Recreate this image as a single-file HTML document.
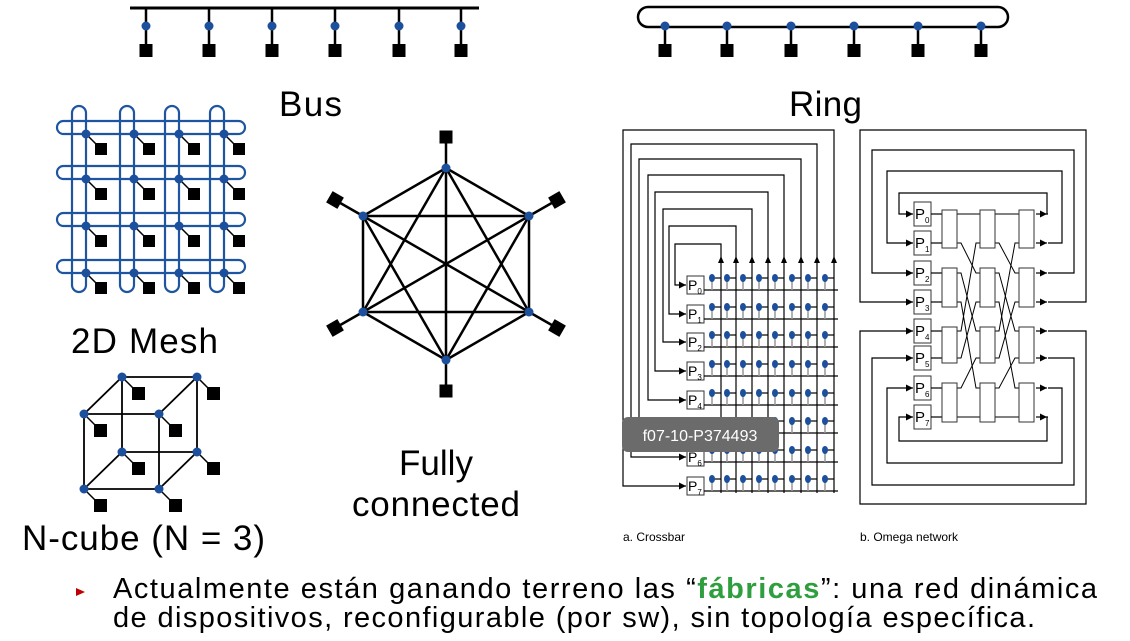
<!DOCTYPE html>
<html><head><meta charset="utf-8"><style>
html,body{margin:0;padding:0;background:#fff;}
svg{display:block;font-family:"Liberation Sans",sans-serif;}
</style></head><body>
<svg id="s" width="1130" height="641" viewBox="0 0 1130 641" xmlns="http://www.w3.org/2000/svg">
<defs>
<marker id="ar" viewBox="0 0 10 10" refX="10" refY="5" markerWidth="6" markerHeight="6" orient="auto"><path d="M0,0L10,5L0,10z" fill="#000"/></marker>
</defs>
<rect width="1130" height="641" fill="#fff"/>
<g id="g"></g>
<g fill="#000">
<text x="279" y="116" font-size="35" textLength="63">Bus</text>
<text x="789" y="116" font-size="35" textLength="73">Ring</text>
<text x="71" y="353" font-size="35" textLength="147">2D Mesh</text>
<text x="22" y="550" font-size="35" textLength="243">N-cube (N = 3)</text>
<text x="436" y="475" font-size="35" text-anchor="middle">Fully</text>
<text x="436" y="516" font-size="35" text-anchor="middle" textLength="168">connected</text>
<text x="623" y="541" font-size="12">a. Crossbar</text>
<text x="860" y="541" font-size="12">b. Omega network</text>
<g font-size="14">
<text x="688" y="290">P<tspan font-size="8" dy="4">0</tspan></text>
<text x="688" y="319">P<tspan font-size="8" dy="4">1</tspan></text>
<text x="688" y="347">P<tspan font-size="8" dy="4">2</tspan></text>
<text x="688" y="376">P<tspan font-size="8" dy="4">3</tspan></text>
<text x="688" y="405">P<tspan font-size="8" dy="4">4</tspan></text>
<text x="688" y="433">P<tspan font-size="8" dy="4">5</tspan></text>
<text x="688" y="462">P<tspan font-size="8" dy="4">6</tspan></text>
<text x="688" y="491">P<tspan font-size="8" dy="4">7</tspan></text>
</g>
<g font-size="15">
<text x="915" y="219">P<tspan font-size="8" dy="4">0</tspan></text>
<text x="915" y="248">P<tspan font-size="8" dy="4">1</tspan></text>
<text x="915" y="278">P<tspan font-size="8" dy="4">2</tspan></text>
<text x="915" y="307">P<tspan font-size="8" dy="4">3</tspan></text>
<text x="915" y="336">P<tspan font-size="8" dy="4">4</tspan></text>
<text x="915" y="363">P<tspan font-size="8" dy="4">5</tspan></text>
<text x="915" y="393">P<tspan font-size="8" dy="4">6</tspan></text>
<text x="915" y="422">P<tspan font-size="8" dy="4">7</tspan></text>
</g>
</g>
<rect x="622" y="417" width="157" height="35" rx="6" fill="#6b6b6b"/>
<text x="700" y="441" font-size="16" fill="#fff" text-anchor="middle">f07-10-P374493</text>
<path d="M76,588L85,592L76,596z" fill="#c00000"/>
<text x="113" y="598" font-size="29" textLength="984" fill="#000">Actualmente están ganando terreno las “<tspan fill="#2e9e3e" font-weight="bold">fábricas</tspan>”: una red dinámica</text>
<text x="113" y="627" font-size="29" textLength="922" fill="#000">de dispositivos, reconfigurable (por sw), sin topología específica.</text>
</svg>
<script>
var g=document.getElementById('g'),NS='http://www.w3.org/2000/svg';
function el(t,a){var e=document.createElementNS(NS,t);for(var k in a)e.setAttribute(k,a[k]);g.appendChild(e);return e;}
function ln(x1,y1,x2,y2,w,c){return el('line',{x1:x1,y1:y1,x2:x2,y2:y2,stroke:c||'#000','stroke-width':w||2});}
function dot(x,y,r){el('circle',{cx:x,cy:y,r:r||4.5,fill:'#1c4f9c'});}
function sq(x,y,s){el('rect',{x:x,y:y,width:s||13,height:s||13,fill:'#000'});}
var B='#1f55a0';
ln(130,8,479,8,3);
[146,209,272,335,399,461].forEach(function(x){ln(x,8,x,50,2.5);dot(x,26);sq(x-6.5,44);});
el('rect',{x:638,y:7,width:370,height:20,rx:10,fill:'none',stroke:'#000','stroke-width':2.5});
[665,727,791,854,918,981].forEach(function(x){ln(x,26,x,50,2.5);dot(x,26);sq(x-6.5,44);});
var mx=[86,134,179,224],my=[134,179,226,273];
my.forEach(function(y){ln(86,y,224,y,2);});
mx.forEach(function(x){ln(x,134,x,273,2);});
my.forEach(function(y){el('rect',{x:57,y:y-13,width:188,height:13,rx:6.5,fill:'none',stroke:B,'stroke-width':2.2});});
mx.forEach(function(x){el('rect',{x:x-14,y:106,width:14,height:186,rx:7,fill:'none',stroke:B,'stroke-width':2.2});});
my.forEach(function(y){mx.forEach(function(x){ln(x,y,x+11,y+11,1.5);dot(x,y);sq(x+9,y+9,12);});});
var c={a:[122,377],b:[197,377],c:[84,414],d:[159,414],e:[122,452],f:[197,452],h:[84,489],i:[159,489]};
[['a','b'],['c','d'],['e','f'],['h','i'],['a','c'],['b','d'],['e','h'],['f','i'],['a','e'],['b','f'],['c','h'],['d','i']].forEach(function(p){ln(c[p[0]][0],c[p[0]][1],c[p[1]][0],c[p[1]][1],1.8);});
for(var k in c){var p=c[k];ln(p[0],p[1],p[0]+12,p[1]+12,1.5);dot(p[0],p[1]);sq(p[0]+10,p[1]+10,13);}
var h=[[446,168],[529,216],[529,312],[446,360],[363,312],[363,216]];
for(var i=0;i<6;i++)for(var j=i+1;j<6;j++)ln(h[i][0],h[i][1],h[j][0],h[j][1],2.5);
var sqp=[[446,137,0],[557,200,-30],[557,328,30],[446,391,0],[335,328,-30],[335,200,30]];
for(i=0;i<6;i++){ln(h[i][0],h[i][1],sqp[i][0],sqp[i][1],2.5);
el('rect',{x:sqp[i][0]-6.5,y:sqp[i][1]-6.5,width:13,height:13,fill:'#000',transform:'rotate('+sqp[i][2]+' '+sqp[i][0]+' '+sqp[i][1]+')'});}
for(i=0;i<6;i++)dot(h[i][0],h[i][1]);
var cx=[721,736,752,768,784,801,817,834],cy=[285,314,342,371,400,428,457,486];
var L=[675,669,663,655,648,639,631,623],T=[244,226,209,192,175,159,144,130];
for(i=0;i<8;i++){
 el('path',{d:'M'+cx[i]+',493L'+cx[i]+','+T[i]+'L'+L[i]+','+T[i]+'L'+L[i]+','+cy[i]+'L686,'+cy[i],fill:'none',stroke:'#000','stroke-width':1.2,'marker-end':'url(#ar)'});
 el('path',{d:'M'+(cx[i]-3)+',263L'+cx[i]+',256L'+(cx[i]+3)+',263z',fill:'#000'});
}
for(i=0;i<8;i++){
 el('rect',{x:687,y:cy[i]-9,width:17,height:18,fill:'#fff',stroke:'#333','stroke-width':1});
 ln(704,cy[i]+5,838,cy[i]+5,1.2);
 for(j=0;j<8;j++){var dx=cx[j]-9;ln(dx,cy[i]-7,cx[j],cy[i]-7,1.2);ln(dx,cy[i]-7,dx,cy[i]+5,1.5,'#999');
  el('ellipse',{cx:dx,cy:cy[i]-7,rx:3,ry:4,fill:'#1c4f9c'});}
}
var oy=[214,243,273,302,331,358,388,417];
var oL=[899,887,872,860,860,872,887,899],oT=[193,171,150,130,504,485,463,441],oR=[1047,1062,1074,1086,1086,1074,1062,1047];
for(i=0;i<8;i++){
 el('path',{d:'M1036,'+oy[i]+'L1047,'+oy[i],fill:'none',stroke:'#000','stroke-width':1.2,'marker-end':'url(#ar)'});
 el('path',{d:'M1048,'+oy[i]+'L'+oR[i]+','+oy[i]+'L'+oR[i]+','+oT[i]+'L'+oL[i]+','+oT[i]+'L'+oL[i]+','+oy[i]+'L913,'+oy[i],fill:'none',stroke:'#000','stroke-width':1.2,'marker-end':'url(#ar)'});
 el('rect',{x:914,y:oy[i]-12,width:17,height:24,fill:'#fff',stroke:'#333','stroke-width':1});
 ln(931,oy[i],942,oy[i],1.2);
}
var sh=[0,2,4,6,1,3,5,7];
[[957,980],[995,1019]].forEach(function(s){for(i=0;i<8;i++){var y2=oy[sh[i]];
 el('path',{d:'M'+s[0]+','+oy[i]+'L'+(s[0]+4)+','+oy[i]+'L'+(s[1]-4)+','+y2+'L'+s[1]+','+y2,fill:'none',stroke:'#000','stroke-width':1});}});
var sy=[[210,248],[268,307],[327,363],[383,422]];
[942,980,1019].forEach(function(x){sy.forEach(function(b){el('rect',{x:x,y:b[0],width:15,height:b[1]-b[0],fill:'#fff',stroke:'#333','stroke-width':1});});});
</script>
</body></html>
